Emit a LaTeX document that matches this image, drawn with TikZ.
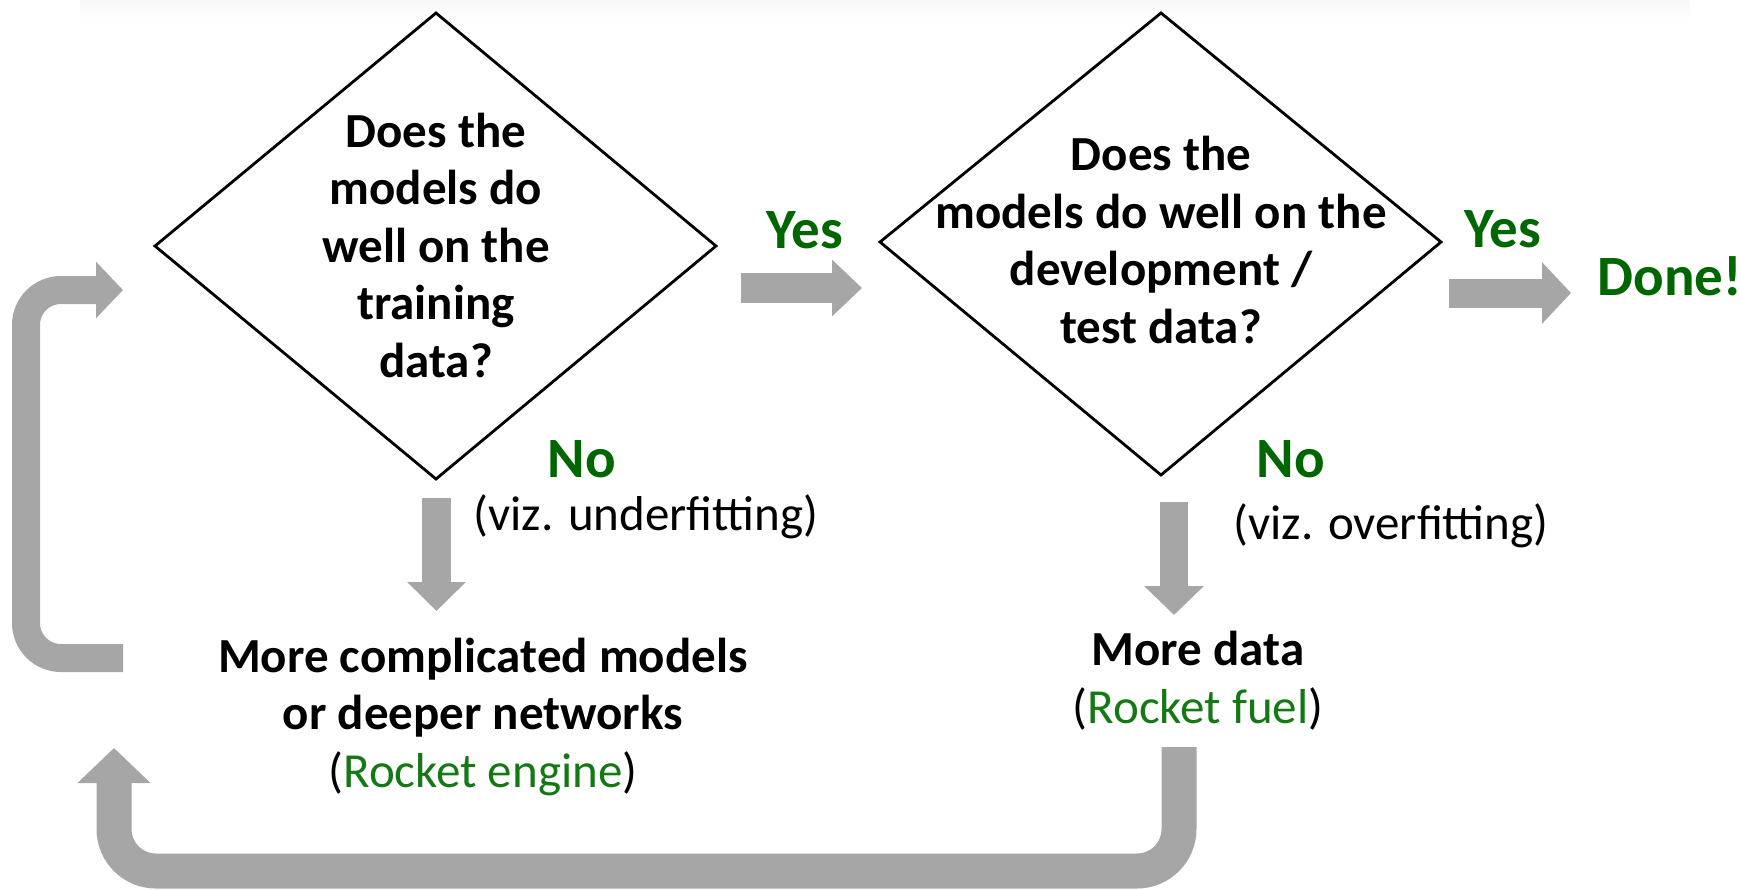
\documentclass[tikz,border=0pt]{standalone}
\usepackage{fontspec}
\setmainfont{Carlito}
\usetikzlibrary{arrows.meta}
\definecolor{blockgray}{RGB}{166,166,166}
\definecolor{okgreen}{RGB}{0,102,0}
\definecolor{notegreen}{RGB}{20,120,20}
\begin{document}
\begin{tikzpicture}[x=1pt,y=-1pt,
  question/.style={font=\fontsize{49}{57.5}\selectfont\bfseries, align=center, anchor=base, inner sep=0},
  action/.style={font=\fontsize{49}{57.5}\selectfont\bfseries, align=center, anchor=base, inner sep=0},
  answer/.style={font=\fontsize{57}{60}\selectfont\bfseries, text=okgreen, anchor=base, inner sep=0},
  remark/.style={font=\fontsize{49}{55}\selectfont, anchor=base, inner sep=0},
  decision/.style={draw=black, line width=2.8pt, line join=miter},
  blockarrow/.style={draw=blockgray, line cap=butt},
]
\useasboundingbox (0,0) rectangle (1740,889);
\fill[top color=black!3, bottom color=white, draw=none] (80,0) rectangle (1690,20);

% decision diamonds
\coordinate (d1n) at (436,13);  \coordinate (d1e) at (716,246);
\coordinate (d1s) at (436,479); \coordinate (d1w) at (155,246);
\draw[decision] (d1n) -- (d1e) -- (d1s) -- (d1w) -- cycle;
\coordinate (d2n) at (1161,13);  \coordinate (d2e) at (1441,242);
\coordinate (d2s) at (1161,475); \coordinate (d2w) at (880,242);
\draw[decision] (d2n) -- (d2e) -- (d2s) -- (d2w) -- cycle;

% multi-line texts are placed by the baseline of their last line
\node[question] (q1) at (436,377) {Does the\\models do\\well on the\\training\\data?};
\node[question] (q2) at (1161,343) {Does the\\models do well on the\\development /\\test data?};

% answers and notes
\node[answer] (yes1) at (805,248) {Yes};
\node[answer] (yes2) at (1503,247) {Yes};
\node[answer] (done) at (1670,295) {Done!};
\node[answer] (no1) at (582,477) {No};
\node[answer] (no2) at (1291,477) {No};
\node[remark] (under) at (646,530) {(viz. underfitting)};
\node[remark] (over) at (1391,539) {(viz. overfitting)};

% remedies
\node[action] (engine) at (483,787) {More complicated models\\or deeper networks\\{\mdseries(\textcolor{notegreen}{Rocket engine})}};
\node[action] (fuel) at (1198,723) {More data\\{\mdseries(\textcolor{notegreen}{Rocket fuel})}};

% block arrows
\coordinate (a1s) at (741,288);  \coordinate (a1t) at (862,288);
\draw[blockarrow, line width=30pt, -{Triangle[length=30pt,width=55pt]}] (a1s) -- (a1t);
\coordinate (a2s) at (1449,293); \coordinate (a2t) at (1571,293);
\draw[blockarrow, line width=29pt, -{Triangle[length=29pt,width=60pt]}] (a2s) -- (a2t);
\coordinate (a3s) at (436.5,498); \coordinate (a3t) at (436.5,611);
\draw[blockarrow, line width=29pt, -{Triangle[length=29pt,width=57pt]}] (a3s) -- (a3t);
\coordinate (a4s) at (1174,502); \coordinate (a4t) at (1174,615);
\draw[blockarrow, line width=28pt, -{Triangle[length=29pt,width=58pt]}] (a4s) -- (a4t);

% feedback loops
\coordinate (l1s) at (123,658); \coordinate (l1t) at (123,290);
\draw[blockarrow, line width=28pt, rounded corners=35pt, -{Triangle[length=27pt,width=55pt]}]
  (l1s) -- (26,658) -- (26,290) -- (l1t);
\coordinate (l2s) at (1179,747); \coordinate (l2t) at (114,748);
\draw[blockarrow, line width=35pt, rounded corners=42pt, -{Triangle[length=35pt,width=71pt]}]
  (l2s) -- (1179,871) -- (114,871) -- (l2t);
\end{tikzpicture}
\end{document}
